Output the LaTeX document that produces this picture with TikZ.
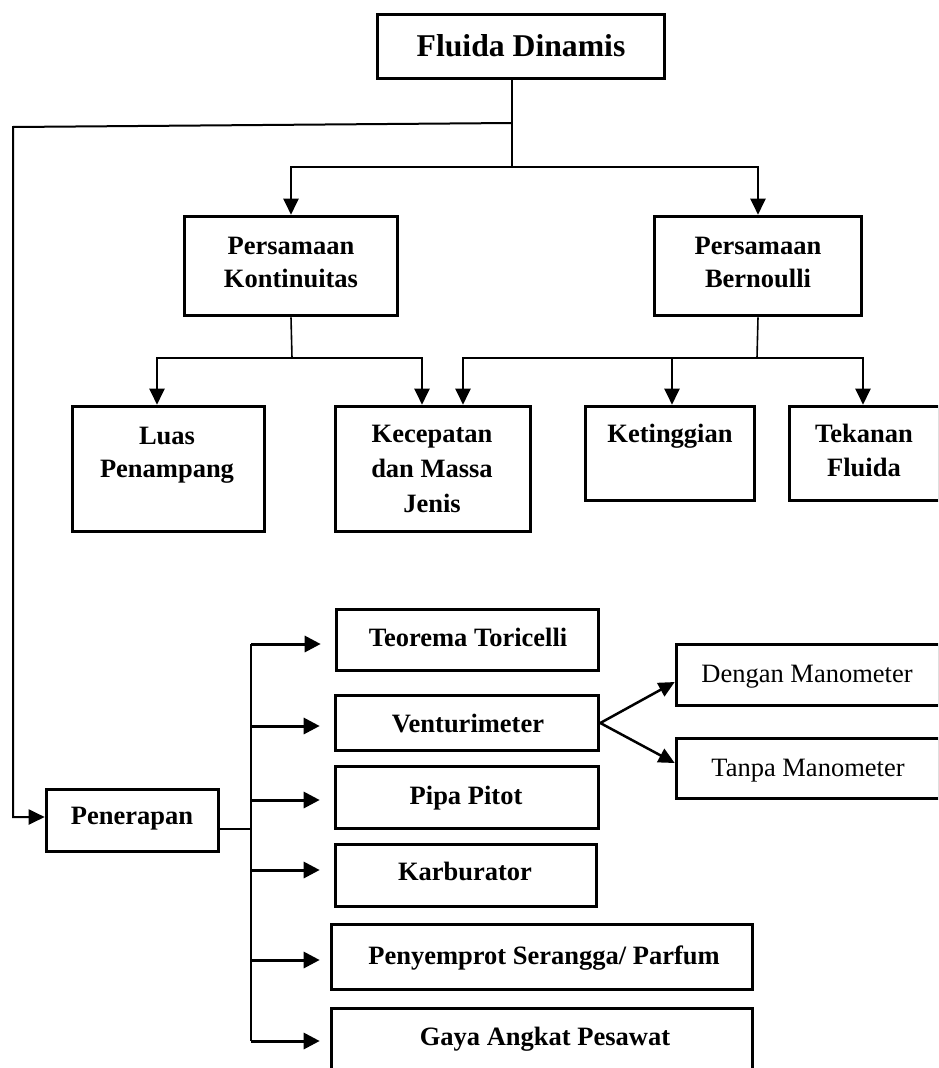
\documentclass[tikz,border=0pt]{standalone}
\usepackage{fontspec}
\setmainfont{Liberation Serif}
\usetikzlibrary{arrows.meta}
\begin{document}
\begin{tikzpicture}[x=1pt,y=-1pt,
  box/.style={draw, line width=3.6pt, inner sep=0pt, rectangle},
  lbl/.style={anchor=base, inner sep=0pt, font=\bfseries\fontsize{26.5}{33}\selectfont},
  lblr/.style={anchor=base, inner sep=0pt, font=\fontsize{26.5}{33}\selectfont},
  thinline/.style={line width=1.6pt},
  arr/.style={line width=2.2pt, -{Triangle[length=16pt,width=15pt]}},
  harr/.style={line width=3pt, -{Triangle[length=16pt,width=16pt]}},
]
\useasboundingbox (0,0) rectangle (938,1068);
\clip (0,0) rectangle (938,1068);

% boxes
\node[box, minimum width=287pt, minimum height=64pt] (fd) at (521,46.5) {};
\node[box, minimum width=213pt, minimum height=99pt] (pk) at (291,266) {};
\node[box, minimum width=207pt, minimum height=99pt] (pb) at (758,266) {};
\node[box, minimum width=192pt, minimum height=125pt] (luas) at (168.5,469) {};
\node[box, minimum width=195pt, minimum height=125pt] (kec) at (433,469) {};
\node[box, minimum width=169pt, minimum height=94pt] (ket) at (670,453.5) {};
\node[box, minimum width=150pt, minimum height=94pt] (tek) at (864.5,453.5) {};
\node[box, minimum width=172pt, minimum height=62pt] (pen) at (132.5,820.5) {};
\node[box, minimum width=262pt, minimum height=61pt] (teo) at (467.5,640) {};
\node[box, minimum width=263pt, minimum height=55pt] (ven) at (467,723) {};
\node[box, minimum width=263pt, minimum height=62pt] (pip) at (467,797.5) {};
\node[box, minimum width=261pt, minimum height=62pt] (kar) at (466,875.5) {};
\node[box, minimum width=421pt, minimum height=65pt] (pny) at (542,957) {};
\node[box, minimum width=421pt, minimum height=70pt] (gay) at (542,1043.5) {};
\node[box, minimum width=263pt, minimum height=61pt] (dm) at (808,675) {};
\node[box, minimum width=263pt, minimum height=60pt] (tm) at (808,768.5) {};

% labels
\node[lbl, font=\bfseries\fontsize{31.7}{38}\selectfont] (fdt) at (521,56) {Fluida Dinamis};
\node[lbl] (pkt) at (291,254) {\begin{tabular}[t]{@{}c@{}}Persamaan\\Kontinuitas\end{tabular}};
\node[lbl] (pbt) at (758,254) {\begin{tabular}[t]{@{}c@{}}Persamaan\\Bernoulli\end{tabular}};
\node[lbl] (luast) at (167,444) {\begin{tabular}[t]{@{}c@{}}Luas\\Penampang\end{tabular}};
\node[lbl] (kect) at (432,442) {\begin{tabular}[t]{@{}c@{}}Kecepatan\\[2pt]dan Massa\\[2pt]Jenis\end{tabular}};
\node[lbl] (kett) at (670,442) {Ketinggian};
\node[lbl] (tekt) at (864,442) {\begin{tabular}[t]{@{}c@{}}Tekanan\\[1pt]Fluida\end{tabular}};
\node[lbl] (pent) at (132,824) {Penerapan};
\node[lbl] (teot) at (468,646) {Teorema Toricelli};
\node[lbl] (vent) at (468,732) {Venturimeter};
\node[lbl] (pipt) at (466,804) {Pipa Pitot};
\node[lbl] (kart) at (465,880) {Karburator};
\node[lbl] (pnyt) at (544,964) {Penyemprot Serangga/ Parfum};
\node[lbl] (gayt) at (545,1045) {Gaya Angkat Pesawat};
\node[lblr] (dmt) at (807,682) {Dengan Manometer};
\node[lblr] (tmt) at (808,776) {Tanpa Manometer};

% junction coordinates
\coordinate (j0) at (512,123);
\coordinate (j1) at (512,167);
\coordinate (c0) at (13,127);
\coordinate (k1) at (292,358);
\coordinate (a1) at (157,358);
\coordinate (a2) at (422,358);
\coordinate (b1) at (757,358);
\coordinate (b2) at (463,358);
\coordinate (b3) at (672,358);
\coordinate (b4) at (863,358);
\coordinate (s0) at (251,829);
\coordinate (s1) at (251,644);
\coordinate (s2) at (251,726);
\coordinate (s3) at (251,800);
\coordinate (s4) at (251,870);
\coordinate (s5) at (251,960);
\coordinate (s6) at (251,1041);

% top connectors
\draw[thinline] (fd.south -| j1) -- (j1);
\draw[arr] (j1) -| (pk.north);
\draw[arr] (j1) -| (pb.north);
\draw[arr, line width=2pt] (j0) -- (c0) |- ([yshift=3.5pt]pen.west);

% Kontinuitas branches
\draw[thinline] (pk.south) -- (k1);
\draw[arr] (k1) -- (a1) -- (a1 |- luas.north);
\draw[arr] (k1) -- (a2) -- (a2 |- kec.north);

% Bernoulli branches
\draw[thinline] (pb.south) -- (b1);
\draw[arr] (b1) -- (b2) -- (b2 |- kec.north);
\draw[arr] (b3) -- (b3 |- ket.north);
\draw[arr] (b1) -- (b4) -- (b4 |- tek.north);

% Penerapan
\draw[thinline] ([yshift=-8.5pt]pen.east) -- (s0);
\draw[thinline] (s1) -- (s6);
\draw[harr] (s1) -- ([xshift=-14pt]s1 -| teo.west);
\draw[harr] (s2) -- ([xshift=-14pt]s2 -| ven.west);
\draw[harr] (s3) -- ([xshift=-14pt]s3 -| pip.west);
\draw[harr] (s4) -- ([xshift=-14pt]s4 -| kar.west);
\draw[harr] (s5) -- ([xshift=-10pt]s5 -| pny.west);
\draw[harr] (s6) -- ([xshift=-10pt]s6 -| gay.west);

% Venturimeter
\draw[arr, line width=2.5pt] (ven.east) -- ([yshift=-7pt]dm.west);
\draw[arr, line width=2.5pt] (ven.east) -- ([yshift=5.5pt]tm.west);
\end{tikzpicture}
\end{document}
